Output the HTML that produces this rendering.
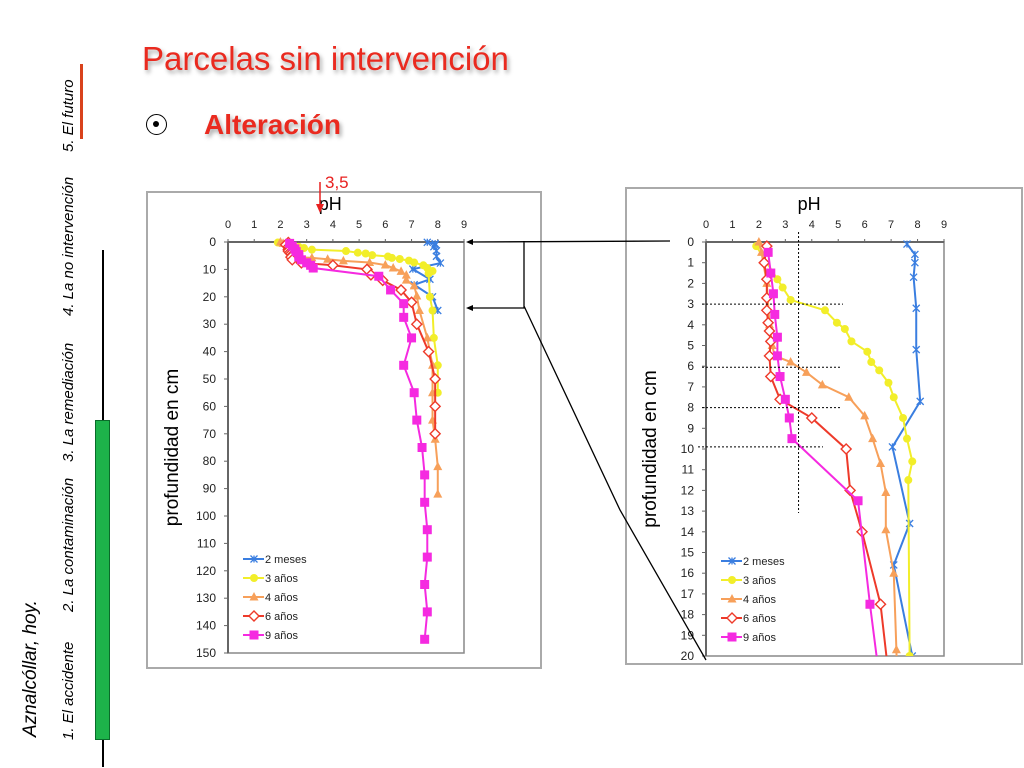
<!DOCTYPE html>
<html><head><meta charset="utf-8"><style>
body{margin:0;width:1024px;height:768px;background:#fff;overflow:hidden;font-family:"Liberation Sans",sans-serif;position:relative}
.abs{position:absolute}
.nav{position:absolute;left:60px;transform-origin:0 0;transform:rotate(-90deg);font-size:15px;font-style:italic;white-space:nowrap;line-height:18px}
</style></head><body>
<div class="abs" style="left:142px;top:40px;font-size:33px;color:#ea2a1f;text-shadow:2px 3px 4px rgba(0,0,0,0.35);white-space:nowrap">Parcelas sin intervención</div>
<div class="abs" style="left:146px;top:114px;width:21px;height:21px;border:1.5px solid #000;border-radius:50%;box-sizing:border-box"><div style="position:absolute;left:6px;top:6px;width:6px;height:6px;background:#000;border-radius:50%"></div></div>
<div class="abs" style="left:204px;top:109px;font-size:28px;font-weight:bold;color:#ea2a1f;text-shadow:2px 3px 4px rgba(0,0,0,0.35);white-space:nowrap">Alteración</div>
<div class="abs" style="left:80px;top:64px;width:3px;height:75px;background:#d9421c"></div>
<div class="abs" style="left:102px;top:250px;width:2px;height:517px;background:#000"></div>
<div class="abs" style="left:95px;top:420px;width:15px;height:320px;background:#1db34a;border:1px solid #0a6b2a;box-sizing:border-box"></div>
<div class="nav" style="top:740px">1. El accidente</div>
<div class="nav" style="top:612px">2. La contaminación</div>
<div class="nav" style="top:462px">3. La remediación</div>
<div class="nav" style="top:316px">4. La no intervención</div>
<div class="nav" style="top:152px">5. El futuro</div>
<div class="abs" style="left:20px;top:737px;transform-origin:0 0;transform:rotate(-90deg);font-size:19px;font-style:italic;white-space:nowrap">Aznalcóllar, hoy.</div>
<svg id="chart" class="abs" style="left:0;top:0" width="1024" height="768"></svg>
<script>
const depths = [0.1,0.6,1,1.7,3.2,5.2,7.7,9.9,13.6,15.6,20,25];
const meses2 = [7.6,7.9,7.9,7.85,7.95,7.95,8.1,7.05,7.7,7.1,7.8,8];
const d3 = [0.2,1.8,2.2,2.8,3.3,3.9,4.2,4.8,5.3,5.8,6.2,6.8,7.5,8.5,9.5,10.6,11.5,20,25,35,45,55];
const anos3 = [1.9,2.7,2.9,3.2,4.5,4.95,5.25,5.5,6.1,6.25,6.55,6.9,7.1,7.45,7.6,7.8,7.65,7.7,7.8,7.85,8,8];
const d4 = [0,0.5,2,4,5,5.5,5.8,6.3,6.9,7.5,8.4,9.5,10.7,12.1,13.9,16,19.7,25,35,45,55,65,72,82,92];
const anos4 = [2,2.1,2.3,2.4,2.5,2.6,3.2,3.8,4.4,5.4,6,6.3,6.6,6.8,6.8,7.1,7.2,7.3,7.6,7.8,7.8,7.8,7.9,8,8];
const d6 = [0.2,1,1.8,2.7,3.3,3.9,4.3,4.8,5.5,6.5,7.6,8.5,10,12,14,17.5,22,30,40,50,60,70];
const anos6 = [2.3,2.2,2.3,2.3,2.3,2.35,2.4,2.45,2.4,2.45,2.8,4,5.3,5.45,5.9,6.6,7,7.2,7.65,7.9,7.9,7.9];
const d9 = [0.5,1.5,2.5,3.5,4.6,5.5,6.5,7.6,8.5,9.5,12.5,17.5,22.5,27.5,35,45,55,65,75,85,95,105,115,125,135,145];
const anos9 = [2.35,2.45,2.55,2.6,2.7,2.7,2.8,3,3.15,3.25,5.75,6.2,6.7,6.7,7,6.7,7.1,7.2,7.4,7.5,7.5,7.6,7.6,7.5,7.6,7.5];
const phTicks = [0,1,2,3,4,5,6,7,8,9];
const leftDepthTicks = [0,10,20,30,40,50,60,70,80,90,100,110,120,130,140,150];
const rightDepthTicks = [0,1,2,3,4,5,6,7,8,9,10,11,12,13,14,15,16,17,18,19,20];
const legendLabels = ["2 meses","3 años","4 años","6 años","9 años"];

const NS="http://www.w3.org/2000/svg";
const svg=document.getElementById('chart');
function mk(tag,attrs,parent){const e=document.createElementNS(NS,tag);for(const k in attrs)e.setAttribute(k,attrs[k]);(parent||svg).appendChild(e);return e;}
const series=[
 {d:depths,v:meses2,c:"#3a7ee0",m:"x",n:"series-2-meses"},
 {d:d3,v:anos3,c:"#f2ee2a",m:"circle",n:"series-3-anos"},
 {d:d4,v:anos4,c:"#f7a05a",m:"tri",n:"series-4-anos"},
 {d:d6,v:anos6,c:"#ee3a2a",m:"diamond",n:"series-6-anos"},
 {d:d9,v:anos9,c:"#f52ae0",m:"square",n:"series-9-anos"}];
function marker(g,m,x,y,c){
 if(m==="x"){mk('path',{d:`M${x-3.5},${y-3.5}L${x+3.5},${y+3.5}M${x-3.5},${y+3.5}L${x+3.5},${y-3.5}M${x},${y-3.5}L${x},${y+3.5}`,stroke:c,'stroke-width':1.3},g);}
 else if(m==="circle")mk('circle',{cx:x,cy:y,r:4,fill:c},g);
 else if(m==="tri")mk('path',{d:`M${x},${y-5}L${x+4.5},${y+3.5}L${x-4.5},${y+3.5}Z`,fill:c},g);
 else if(m==="diamond")mk('path',{d:`M${x},${y-5}L${x+5},${y}L${x},${y+5}L${x-5},${y}Z`,fill:"#fff",stroke:c,'stroke-width':1.4},g);
 else mk('rect',{x:x-4.5,y:y-4.5,width:9,height:9,fill:c},g);
}
function drawChart(o){
 const g=mk('g',{});
 
 
 const fr=mk('rect',{x:o.fx,y:o.fy,width:o.fw,height:o.fh,fill:"#fff",stroke:"#aaa",'stroke-width':2},g);
 
 
 const sx=p=>o.x0+(o.x1-o.x0)*p/9;
 const sy=d=>o.y0+(o.y1-o.y0)*d/o.dmax;
 mk('rect',{x:o.x0,y:o.y0,width:o.x1-o.x0,height:o.y1-o.y0,fill:"none",stroke:"#888",'stroke-width':1.5},g);
 mk('line',{x1:o.x0,y1:o.y0,x2:o.x1,y2:o.y0,stroke:"#666",'stroke-width':2},g);
 mk('line',{x1:o.x0,y1:o.y0,x2:o.x0,y2:o.y1,stroke:"#666",'stroke-width':2},g);
 phTicks.forEach(t=>{const x=sx(t);mk('line',{x1:x,y1:o.y0-3,x2:x,y2:o.y0,stroke:"#666"},g);
  const tx=mk('text',{x:x,y:o.y0-14,'font-size':11,'text-anchor':'middle',fill:"#222"},g);tx.textContent=t;
  });
 o.ticks.forEach(t=>{const y=sy(t);mk('line',{x1:o.x0-4,y1:y,x2:o.x0,y2:y,stroke:"#666"},g);
  const tx=mk('text',{x:o.x0-12,y:y+4,'font-size':12,'text-anchor':'end',fill:"#222"},g);tx.textContent=t;
  });
 const xt=mk('text',{x:sx(3.9),y:o.y0-32,'font-size':18,'text-anchor':'middle',fill:"#000"},g);xt.textContent="pH";
 
 const yx=o.x0-50,yy=(o.y0+o.y1)/2;
 const yt=mk('text',{x:yx,y:yy,'font-size':19,'text-anchor':'middle',transform:`rotate(-90 ${yx} ${yy})`,fill:"#000"},g);yt.textContent="profundidad en cm";
 
 const clip='c'+o.name;const cp=mk('clipPath',{id:clip},g);mk('rect',{x:o.x0-6,y:o.y0-6,width:o.x1-o.x0+12,height:o.y1-o.y0+6},cp);
 const pg=mk('g',{'clip-path':`url(#${clip})`},g);
 series.forEach(s=>{
  const sg=mk('g',{},pg);
  
  
  const pts=s.d.map((d,i)=>[sx(s.v[i]),sy(d)]);
  mk('polyline',{points:pts.map(p=>p.join(',')).join(' '),fill:'none',stroke:s.c,'stroke-width':2},sg);
  pts.forEach(p=>{if(p[1]<=o.y1+2)marker(sg,s.m,p[0],p[1],s.c);});
 });
 legendLabels.forEach((l,i)=>{
  const ly=o.ly+i*19,lx=o.x0+15;
  const lg=mk('g',{},g);
  
  
  mk('line',{x1:lx,y1:ly,x2:lx+21,y2:ly,stroke:series[i].c,'stroke-width':2},lg);
  marker(lg,series[i].m,lx+11,ly,series[i].c);
  const t=mk('text',{x:lx+22,y:ly+4,'font-size':11,fill:"#222"},lg);t.textContent=l;
 });
 return {sx,sy};
}
drawChart({name:"left-chart",fx:147,fy:192,fw:394,fh:476,x0:228,x1:464,y0:242,y1:653,dmax:150,ticks:leftDepthTicks,ly:559});
const R=drawChart({name:"right-chart",fx:626,fy:188,fw:396,fh:476,x0:706,x1:944,y0:242,y1:656,dmax:20,ticks:rightDepthTicks,ly:561});
const ann=mk('g',{});


[[3,702,843],[6.05,702,842],[8,702,842],[9.9,698,823]].forEach(a=>{const y=R.sy(a[0]);mk('line',{x1:a[1],y1:y,x2:a[2],y2:y,stroke:"#000",'stroke-width':1,'stroke-dasharray':'2,2'},ann);});
mk('line',{x1:R.sx(3.5),y1:232,x2:R.sx(3.5),y2:513,stroke:"#000",'stroke-width':1,'stroke-dasharray':'2,2'},ann);
const con=mk('g',{stroke:"#000",'stroke-width':1.3,fill:"none"});


mk('path',{d:"M670,241L468,242M524,241L524,308L468,308M524,306L620,510L706,660"},con);
mk('path',{d:"M466,242l7,-3v6z M466,308l7,-3v6z",fill:"#000",stroke:"none"},con);
const a35=mk('text',{x:325,y:188,'font-size':17,fill:"#e8201f"});a35.textContent="3,5";

mk('line',{x1:320,y1:182,x2:320,y2:206,stroke:"#e8201f",'stroke-width':1.5});
mk('path',{d:"M316,204L324,204L320,213Z",fill:"#e8201f"});
</script>
</body></html>
